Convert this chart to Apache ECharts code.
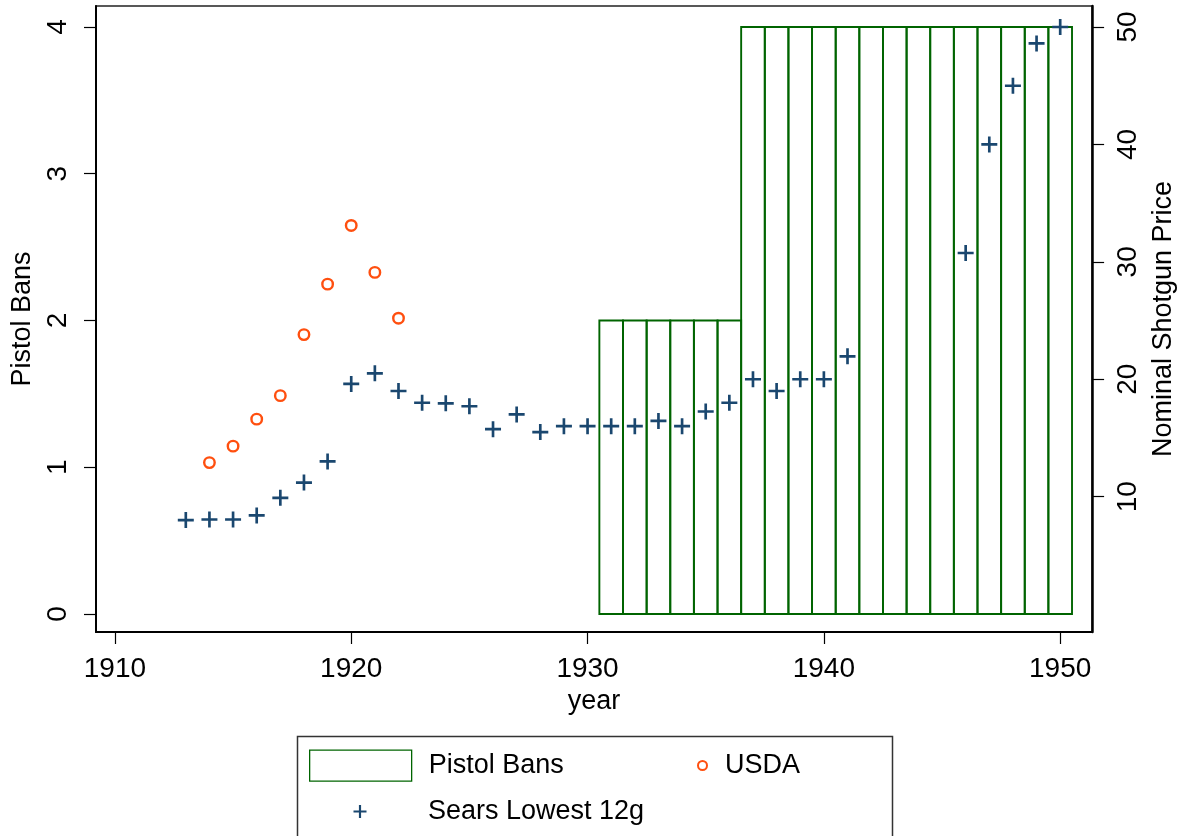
<!DOCTYPE html>
<html>
<head>
<meta charset="utf-8">
<title>Pistol Bans and Shotgun Prices</title>
<script src="https://cdn.jsdelivr.net/npm/echarts@6/dist/echarts.min.js"></script>
<style>
  html, body { margin: 0; padding: 0; background: #fff; }
  #chart { width: 1185px; height: 836px; }
</style>
</head>
<body>
<div id="chart"></div>
<script>
// values
const banYears = [1931, 1932, 1933, 1934, 1935, 1936, 1937, 1938, 1939, 1940,
  1941, 1942, 1943, 1944, 1945, 1946, 1947, 1948, 1949, 1950];
const banValues = [2, 2, 2, 2, 2, 2, 4, 4, 4, 4, 4, 4, 4, 4, 4, 4, 4, 4, 4, 4];

const usdaYears = [1914, 1915, 1916, 1917, 1918, 1919, 1920, 1921, 1922];
const usdaPrice = [12.9, 14.3, 16.6, 18.6, 23.8, 28.1, 33.1, 29.1, 25.2];

const searsYears = [1913, 1914, 1915, 1916, 1917, 1918, 1919, 1920, 1921, 1922,
  1923, 1924, 1925, 1926, 1927, 1928, 1929, 1930, 1931, 1932, 1933, 1934,
  1935, 1936, 1937, 1938, 1939, 1940, 1941, 1946, 1947, 1948, 1949, 1950];
const searsPrice = [8.0, 8.05, 8.05, 8.4, 9.9, 11.2, 13.0, 19.6, 20.5, 19.0,
  18.0, 17.95, 17.7, 15.75, 17.0, 15.5, 16.0, 16.0, 16.0, 16.0, 16.45, 16.0,
  17.25, 18.0, 20.0, 19.0, 20.0, 20.0, 21.95, 30.75, 40.0, 45.0, 48.6, 50.0];

const xTicks = [1910, 1920, 1930, 1940, 1950];
const leftTicks = [0, 1, 2, 3, 4];
const rightTicks = [10, 20, 30, 40, 50];

const green = '#006400';
const navy = '#1a476f';
const orange = '#ff4f0f';
const font = '"Liberation Sans", Arial, sans-serif';
const plusPath = 'path://M12.5,0H17.5V12.5H30V17.5H17.5V30H12.5V17.5H0V12.5H12.5Z';

let myChart = echarts.init(document.getElementById('chart'));

// shared axis look (stata style, ticks outside, no grid lines)
function axisStyle(ticks) {
  return {
    splitLine: { show: false },
    axisLine: { onZero: false, lineStyle: { color: '#000', width: 2 } },
    axisTick: { length: 12, customValues: ticks, lineStyle: { color: '#000', width: 1.2 } },
    axisLabel: { customValues: ticks, fontSize: 28, color: '#000', fontFamily: font,
      formatter: v => String(v) },
    nameTextStyle: { fontSize: 27, color: '#000', fontFamily: font }
  };
}

let xAxis = axisStyle(xTicks);
Object.assign(xAxis, { type: 'value', min: 1909.2, max: 1951.35, name: 'year', nameLocation: 'middle', nameGap: 54 });
xAxis.axisLabel.margin = 23;

let yLeft = axisStyle(leftTicks);
Object.assign(yLeft, { type: 'value', position: 'left', min: -0.1226, max: 4.143,
  name: 'Pistol Bans', nameLocation: 'middle', nameGap: 57 });
yLeft.axisLabel.rotate = 90;
yLeft.axisLabel.margin = 24;

let yRight = axisStyle(rightTicks);
Object.assign(yRight, { type: 'value', position: 'right', min: -1.53, max: 51.79,
  name: 'Nominal Shotgun Price', nameLocation: 'middle', nameGap: 52 });
yRight.axisLabel.rotate = 90;
yRight.axisLabel.margin = 22;
yRight.axisLine.lineStyle.width = 2.5;

const legendText = { fontSize: 27, color: '#000', fontFamily: font };

myChart.setOption({
  animation: false,
  grid: { left: 96, right: 89, top: 6, bottom: 204, show: true, borderColor: '#222', borderWidth: 1.5 },
  xAxis: xAxis,
  yAxis: [yLeft, yRight],
  legend: [
    {
      data: [{ name: 'Pistol Bans', icon: 'rect', itemStyle: { color: '#fff', borderColor: green, borderWidth: 1.3 } }],
      left: 309, top: 749.5, padding: 0, itemWidth: 102, itemHeight: 31, selectedMode: false,
      textStyle: Object.assign({ padding: [0, 0, 0, 12] }, legendText)
    },
    {
      data: [{ name: 'USDA', icon: 'circle', itemStyle: { color: '#fff', borderColor: orange, borderWidth: 2, opacity: 1 } }],
      left: 697, top: 752, padding: 0, itemWidth: 9, itemHeight: 9, selectedMode: false,
      textStyle: Object.assign({ padding: [0, 0, 0, 13] }, legendText)
    },
    {
      data: [{ name: 'Sears Lowest 12g', icon: plusPath, itemStyle: { color: navy, opacity: 1 } }],
      left: 353.5, top: 798, padding: 0, itemWidth: 13, itemHeight: 13, selectedMode: false,
      textStyle: Object.assign({ padding: [0, 0, 0, 56.5] }, legendText)
    }
  ],
  graphic: [
    { type: 'rect', silent: true, shape: { x: 297.5, y: 736.5, width: 595, height: 120 },
      style: { fill: 'none', stroke: '#333', lineWidth: 1.5 } }
  ],
  series: [
    {
      name: 'Pistol Bans',
      type: 'custom',
      xAxisIndex: 0,
      yAxisIndex: 0,
      data: banYears.map((y, i) => [y, banValues[i]]),
      encode: { x: 0, y: 1 },
      itemStyle: { color: '#fff', borderColor: green },
      renderItem: function (params, api) {
        let yr = api.value(0);
        let top = api.coord([yr - 0.5, api.value(1)]);
        let bottom = api.coord([yr + 0.5, 0]);
        return {
          type: 'rect',
          shape: { x: top[0], y: top[1], width: bottom[0] - top[0], height: bottom[1] - top[1] },
          style: { fill: 'none', stroke: green, lineWidth: 1.9 }
        };
      },
      z: 1
    },
    {
      name: 'USDA',
      type: 'scatter',
      yAxisIndex: 1,
      data: usdaYears.map((y, i) => [y, usdaPrice[i]]),
      symbol: 'circle',
      symbolSize: 10.5,
      itemStyle: { color: '#fff', borderColor: orange, borderWidth: 2.4, opacity: 1 },
      z: 3
    },
    {
      name: 'Sears Lowest 12g',
      type: 'scatter',
      yAxisIndex: 1,
      data: searsYears.map((y, i) => [y, searsPrice[i]]),
      symbol: plusPath,
      symbolSize: 16,
      itemStyle: { color: navy, opacity: 1 },
      z: 4
    }
  ]
});
</script>
</body>
</html>
